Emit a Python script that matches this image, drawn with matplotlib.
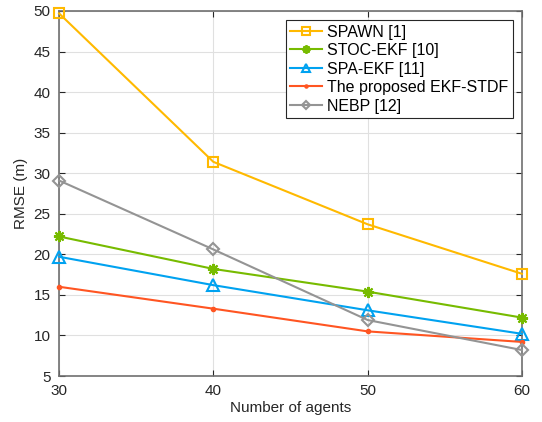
import matplotlib
matplotlib.use('Agg')
import matplotlib.pyplot as plt

plt.rcParams['font.family'] = ['Liberation Sans', 'DejaVu Sans']

agents = [30, 40, 50, 60]
spawn = [49.7, 31.4, 23.7, 17.6]
stoc_ekf = [22.2, 18.2, 15.4, 12.2]
spa_ekf = [19.7, 16.2, 13.1, 10.2]
proposed = [16.0, 13.3, 10.5, 9.2]
nebp = [29.1, 20.6, 11.9, 8.2]

fig = plt.figure(figsize=(5.42, 4.22), dpi=100)
ax = fig.add_axes([0.109, 0.109, 0.854, 0.865])

style = dict(lw=1.5, clip_on=False, zorder=3)
ax.plot(agents, spawn, color='#FFB900', marker='s', ms=7, mfc='none', mew=1.5, label='SPAWN [1]', **style)
ax.plot(agents, stoc_ekf, color='#77BB00', marker=(8, 2, 0), ms=8, mew=1.5, label='STOC-EKF [10]', **style)
ax.plot(agents, spa_ekf, color='#00A2F0', marker='^', ms=8, mfc='none', mew=1.5, label='SPA-EKF [11]', **style)
ax.plot(agents, proposed, color='#FF5522', marker='.', ms=6, label='The proposed EKF-STDF', **style)
ax.plot(agents, nebp, color='#949494', marker='D', ms=6, mfc='none', mew=1.5, label='NEBP [12]', **style)

ax.set_xlim(30, 60)
ax.set_ylim(5, 50)
ax.set_xticks([30, 40, 50, 60])
ax.set_yticks(range(5, 51, 5))
ax.grid(True, color='#E0E0E0', lw=0.8)
ax.set_axisbelow(True)
ax.tick_params(direction='in', labelsize=11, colors='#262626', top=True, right=True, length=4, pad=6)
for s in ax.spines.values():
    s.set_color('#707070')
    s.set_linewidth(1.2)
ax.set_xlabel('Number of agents', fontsize=11, color='#262626', labelpad=2)
ax.set_ylabel('RMSE (m)', fontsize=11, color='#262626', labelpad=4)

leg = ax.legend(loc='upper right', fontsize=11.5, fancybox=False, framealpha=1,
                edgecolor='#262626', borderpad=0.3, labelspacing=0.22, handlelength=2.0,
                handletextpad=0.3, borderaxespad=0.55, markerscale=0.75)
leg.get_frame().set_linewidth(0.8)

fig.savefig('out.png', dpi=100)
